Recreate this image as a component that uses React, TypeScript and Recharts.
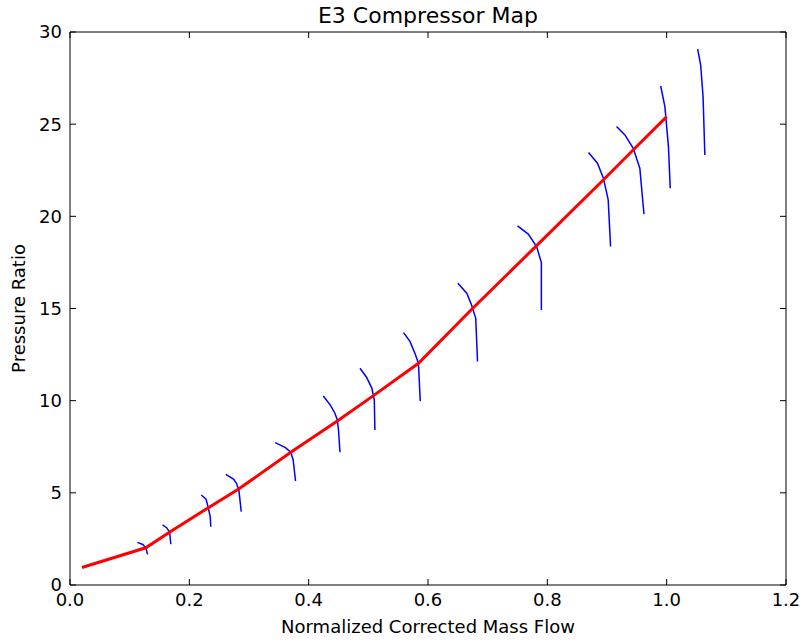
import React from "react";
import { LineChart, Line, XAxis, YAxis, Label } from "recharts";

// Operating line (red)
const opFlow = [0.02, 0.127, 0.168, 0.2346, 0.282, 0.37, 0.448, 0.508, 0.584, 0.675, 0.782, 0.895, 0.945, 1.0];
const opPR = [0.95, 2.02, 2.89, 4.25, 5.19, 7.2, 8.9, 10.26, 12.03, 15.01, 18.41, 22.01, 23.64, 25.41];

// Speed lines (blue): [flow, pressure ratio]
const speed1 = [[0.113, 2.31], [0.122, 2.2], [0.127, 2.02], [0.13, 1.66]];
const speed2 = [[0.155, 3.26], [0.162, 3.11], [0.167, 2.86], [0.169, 2.21]];
const speed3 = [[0.22, 4.88], [0.228, 4.65], [0.231, 4.29], [0.235, 3.71], [0.236, 3.16]];
const speed4 = [[0.261, 6.0], [0.274, 5.75], [0.279, 5.52], [0.283, 5.16], [0.287, 3.98]];
const speed5 = [[0.344, 7.72], [0.361, 7.45], [0.37, 7.2], [0.374, 6.78], [0.378, 5.64]];
const speed6 = [[0.4245, 10.25], [0.436, 9.77], [0.444, 9.32], [0.448, 8.95], [0.45, 8.41], [0.4525, 7.2]];
const speed7 = [[0.486, 11.76], [0.497, 11.27], [0.506, 10.67], [0.51, 10.04], [0.511, 8.41]];
const speed8 = [[0.559, 13.69], [0.57, 13.2], [0.578, 12.57], [0.584, 12.03], [0.587, 9.98]];
const speed9 = [[0.65, 16.37], [0.665, 15.83], [0.673, 15.19], [0.68, 14.47], [0.683, 12.12]];
const speed10 = [[0.75, 19.48], [0.768, 19.04], [0.782, 18.36], [0.79, 17.49], [0.79, 14.92]];
const speed11 = [[0.869, 23.46], [0.884, 22.88], [0.894, 22.07], [0.902, 20.89], [0.906, 18.36]];
const speed12 = [[0.916, 24.87], [0.93, 24.42], [0.944, 23.69], [0.955, 22.61], [0.962, 20.11]];
const speed13 = [[0.99, 27.07], [0.997, 25.95], [1.003, 23.78], [1.006, 21.52]];
const speed14 = [[1.052, 29.07], [1.057, 28.21], [1.061, 26.49], [1.064, 23.33]];

const speedLines = [speed1, speed2, speed3, speed4, speed5, speed6, speed7, speed8, speed9, speed10, speed11, speed12, speed13, speed14];

const xTicks = [0, 0.2, 0.4, 0.6, 0.8, 1.0, 1.2];
const yTicks = [0, 5, 10, 15, 20, 25, 30];

const opData = opFlow.map((x, i) => ({ x, y: opPR[i] }));
const speedData = speedLines.map((pts) => pts.map(([x, y]) => ({ x, y })));

const FONT = "DejaVu Sans";
const tickStyle = { fill: "#000", fontSize: 18, fontFamily: FONT };

export default function App() {
  return (
    <div style={{ position: "absolute", left: 0, top: 0, width: 802, height: 643, background: "#fff" }}>
      <LineChart width={802} height={643} margin={{ top: 0, right: 0, bottom: 0, left: 0 }}>
        <XAxis
          xAxisId="bottom"
          type="number"
          dataKey="x"
          domain={[0, 1.2]}
          ticks={xTicks}
          tickFormatter={(v: number) => v.toFixed(1)}
          orientation="bottom"
          height={58}
          tickSize={-6}
          tickMargin={14}
          tick={tickStyle}
          stroke="#000"
          axisLine={{ stroke: "#000", strokeWidth: 1 }}
          tickLine={{ stroke: "#000" }}
          allowDataOverflow
        >
          <Label
            value="Normalized Corrected Mass Flow"
            position="insideBottom"
            offset={10}
            style={{ fill: "#000", fontSize: 18, fontFamily: FONT }}
          />
        </XAxis>
        <XAxis
          xAxisId="top"
          type="number"
          dataKey="x"
          domain={[0, 1.2]}
          ticks={xTicks}
          orientation="top"
          height={32}
          tickSize={-6}
          tickFormatter={() => ""}
          stroke="#000"
          axisLine={{ stroke: "#000", strokeWidth: 1 }}
          tickLine={{ stroke: "#000" }}
          allowDataOverflow
        >
          <Label
            value="E3 Compressor Map"
            position="insideTop"
            offset={7}
            style={{ fill: "#000", fontSize: 22, fontFamily: FONT }}
          />
        </XAxis>
        <YAxis
          yAxisId="left"
          type="number"
          domain={[0, 30]}
          ticks={yTicks}
          orientation="left"
          width={70}
          tickSize={-6}
          tickMargin={14}
          tick={tickStyle}
          stroke="#000"
          axisLine={{ stroke: "#000", strokeWidth: 1 }}
          tickLine={{ stroke: "#000" }}
          allowDataOverflow
        >
          <Label
            value="Pressure Ratio"
            angle={-90}
            position="insideLeft"
            offset={19}
            style={{ fill: "#000", fontSize: 18, fontFamily: FONT, textAnchor: "middle" }}
          />
        </YAxis>
        <YAxis
          yAxisId="right"
          type="number"
          domain={[0, 30]}
          ticks={yTicks}
          orientation="right"
          width={16}
          tickSize={-6}
          tickFormatter={() => ""}
          stroke="#000"
          axisLine={{ stroke: "#000", strokeWidth: 1 }}
          tickLine={{ stroke: "#000" }}
          allowDataOverflow
        />
        {speedData.map((d, i) => (
          <Line
            key={"speed" + i}
            xAxisId="bottom"
            yAxisId="left"
            data={d}
            dataKey="y"
            type="linear"
            stroke="#0000ff"
            strokeWidth={1.5}
            dot={false}
            activeDot={false}
            isAnimationActive={false}
          />
        ))}
        <Line
          xAxisId="bottom"
          yAxisId="left"
          data={opData}
          dataKey="y"
          type="linear"
          stroke="#ff0000"
          strokeWidth={3}
          dot={false}
          activeDot={false}
          isAnimationActive={false}
        />
      </LineChart>
    </div>
  );
}
